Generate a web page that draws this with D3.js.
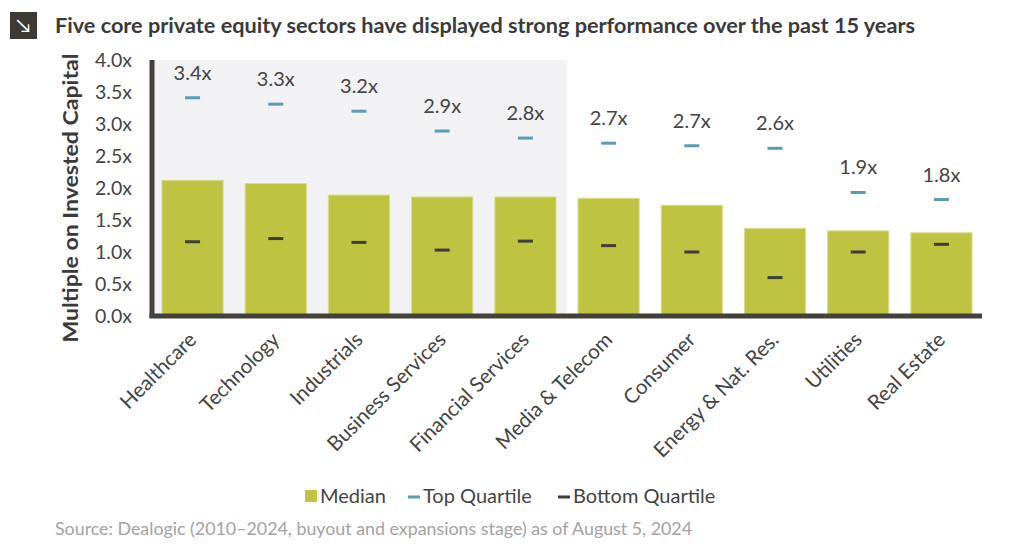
<!DOCTYPE html>
<html>
<head>
<meta charset="utf-8">
<script src="https://cdn.jsdelivr.net/npm/d3@7"></script>
<style>
  body { margin: 0; background: #fff; }
  text { font-family: Lato, "Open Sans", sans-serif; }
</style>
</head>
<body>
<svg width="1024" height="554"></svg>
<script>
let sectors = ["Healthcare", "Technology", "Industrials", "Business Services", "Financial Services",
  "Media & Telecom", "Consumer", "Energy & Nat. Res.", "Utilities", "Real Estate"];
let median = [2.12, 2.07, 1.89, 1.86, 1.86, 1.84, 1.73, 1.37, 1.33, 1.30];
let topQuartile = [3.41, 3.31, 3.2, 2.89, 2.78, 2.7, 2.66, 2.62, 1.93, 1.82];
let bottomQuartile = [1.16, 1.21, 1.15, 1.03, 1.17, 1.1, 1.0, 0.6, 1.0, 1.12];
let topLabels = ["3.4x", "3.3x", "3.2x", "2.9x", "2.8x", "2.7x", "2.7x", "2.6x", "1.9x", "1.8x"];
let yTicks = [0, 0.5, 1, 1.5, 2, 2.5, 3, 3.5, 4];
let highlighted = 5; // first five sectors shaded

let svg = d3.select("svg"),
  plotLeft = 152, plotRight = 982, plotTop = 60, plotBottom = 316;

let xScale = d3.scaleBand().domain(sectors).range([plotLeft, plotRight]).paddingInner(0.265).paddingOuter(0.12),
  yScale = d3.scaleLinear().domain([0, 4]).range([plotBottom, plotTop]);

// title
svg.append("rect").attr("x", 10).attr("y", 12).attr("width", 27).attr("height", 27).attr("fill", "#3d3a35");
svg.append("text").attr("x", 23.5).attr("y", 32).attr("text-anchor", "middle")
  .attr("fill", "#fff").style("font-size", "19px").text("↘");
svg.append("text").attr("x", 55).attr("y", 33)
  .attr("fill", "#3a3a3a").style("font-size", "20px").style("font-weight", "bold")
  .attr("textLength", 860).attr("lengthAdjust", "spacingAndGlyphs")
  .text("Five core private equity sectors have displayed strong performance over the past 15 years");

// shaded background for the five core sectors
let step = xScale.step();
svg.append("rect")
  .attr("x", plotLeft)
  .attr("y", yScale(4))
  .attr("width", xScale(sectors[highlighted - 1]) + xScale.bandwidth() + step * xScale.paddingInner() / 2 - plotLeft)
  .attr("height", plotBottom - yScale(4))
  .attr("fill", "#f2f1f4");

// y axis
let yAxis = svg.append("g")
  .attr("transform", "translate(" + plotLeft + ",0)")
  .call(d3.axisLeft(yScale).tickValues(yTicks).tickSize(0).tickPadding(20).tickFormat(d => d.toFixed(1) + "x"));
yAxis.select(".domain").remove();
yAxis.selectAll("text").attr("fill", "#444").style("font-size", "19.5px").style("font-family", "Lato, sans-serif");

svg.append("text")
  .attr("transform", "translate(78,198) rotate(-90)")
  .attr("text-anchor", "middle")
  .attr("fill", "#3a3a3a").style("font-size", "21px").style("font-weight", "bold")
  .attr("textLength", 289).attr("lengthAdjust", "spacingAndGlyphs")
  .text("Multiple on Invested Capital");

// bars
svg.append("g").selectAll("rect")
  .data(sectors)
  .enter()
  .append("rect")
  .attr("x", d => xScale(d))
  .attr("y", (d, i) => yScale(median[i]))
  .attr("width", xScale.bandwidth())
  .attr("height", (d, i) => plotBottom - yScale(median[i]))
  .attr("fill", "#bec342")
  .attr("stroke", "#d9dc8e")
  .attr("stroke-width", 1);

// quartile markers
let dashW = 15;
svg.append("g").selectAll("line")
  .data(sectors)
  .enter()
  .append("line")
  .attr("x1", d => xScale(d) + xScale.bandwidth() / 2 - dashW / 2)
  .attr("x2", d => xScale(d) + xScale.bandwidth() / 2 + dashW / 2)
  .attr("y1", (d, i) => yScale(topQuartile[i]))
  .attr("y2", (d, i) => yScale(topQuartile[i]))
  .attr("stroke", "#5b9bb6").attr("stroke-width", 3);

svg.append("g").selectAll("line")
  .data(sectors)
  .enter()
  .append("line")
  .attr("x1", d => xScale(d) + xScale.bandwidth() / 2 - dashW / 2)
  .attr("x2", d => xScale(d) + xScale.bandwidth() / 2 + dashW / 2)
  .attr("y1", (d, i) => yScale(bottomQuartile[i]))
  .attr("y2", (d, i) => yScale(bottomQuartile[i]))
  .attr("stroke", "#3f3e3c").attr("stroke-width", 3);

svg.append("g").selectAll("text")
  .data(sectors)
  .enter()
  .append("text")
  .attr("x", d => xScale(d) + xScale.bandwidth() / 2)
  .attr("y", (d, i) => yScale(topQuartile[i]) - 18)
  .attr("text-anchor", "middle")
  .attr("fill", "#444").style("font-size", "20px")
  .text((d, i) => topLabels[i]);

// x axis
let xAxis = svg.append("g")
  .attr("transform", "translate(0," + plotBottom + ")")
  .call(d3.axisBottom(xScale).tickSize(0).tickPadding(0));
xAxis.select(".domain").remove();
xAxis.selectAll("text")
  .attr("text-anchor", "end")
  .attr("fill", "#444").style("font-size", "20.5px").style("font-family", "Lato, sans-serif")
  .attr("dy", null).attr("y", 0)
  .attr("transform", "translate(5,25) rotate(-45)");

// axis lines
svg.append("line").attr("x1", plotLeft).attr("x2", plotLeft).attr("y1", plotTop).attr("y2", plotBottom + 2)
  .attr("stroke", "#44413b").attr("stroke-width", 5);
svg.append("line").attr("x1", plotLeft - 2.5).attr("x2", plotRight).attr("y1", plotBottom).attr("y2", plotBottom)
  .attr("stroke", "#44413b").attr("stroke-width", 5);

// legend
let legend = svg.append("g").attr("transform", "translate(0,497)");
legend.append("rect").attr("x", 305).attr("y", -7).attr("width", 12).attr("height", 12).attr("fill", "#bec342");
legend.append("text").attr("x", 320).attr("y", 6).attr("fill", "#444").style("font-size", "20px").text("Median");
legend.append("line").attr("x1", 408).attr("x2", 420).attr("y1", 0).attr("y2", 0).attr("stroke", "#5b9bb6").attr("stroke-width", 3);
legend.append("text").attr("x", 423).attr("y", 6).attr("fill", "#444").style("font-size", "20px").text("Top Quartile");
legend.append("line").attr("x1", 558).attr("x2", 570).attr("y1", 0).attr("y2", 0).attr("stroke", "#3f3e3c").attr("stroke-width", 3);
legend.append("text").attr("x", 573).attr("y", 6).attr("fill", "#444").style("font-size", "20px").text("Bottom Quartile");

// source
svg.append("text").attr("x", 55).attr("y", 535)
  .attr("fill", "#a3a3a3").style("font-size", "16.5px")
  .attr("textLength", 637).attr("lengthAdjust", "spacingAndGlyphs")
  .text("Source: Dealogic (2010–2024, buyout and expansions stage) as of August 5, 2024");
</script>
</body>
</html>
